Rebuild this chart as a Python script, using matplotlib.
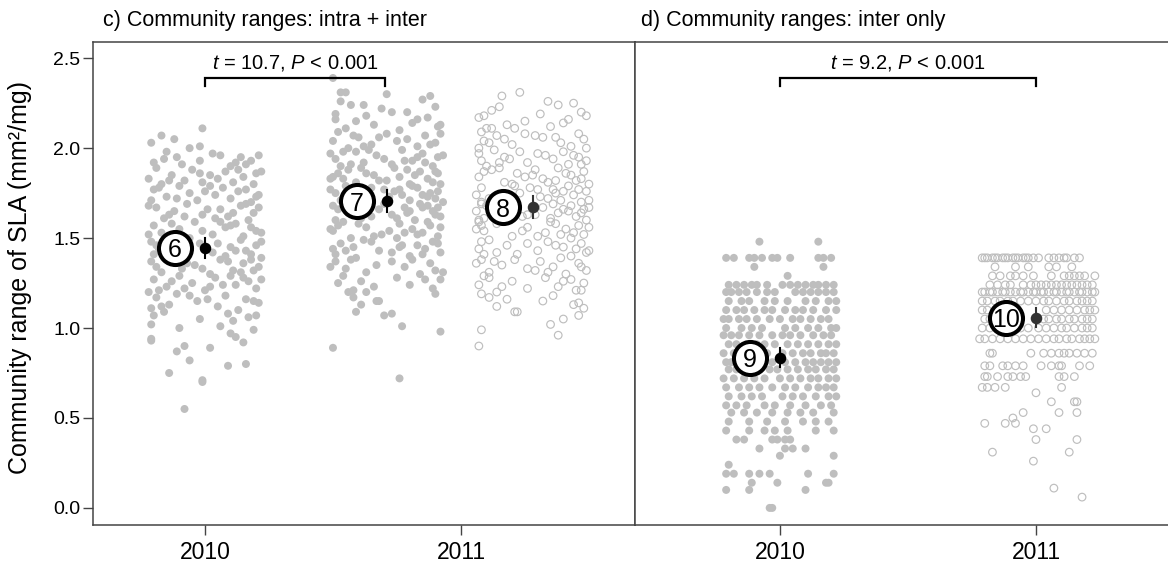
import matplotlib
matplotlib.use('Agg')
import matplotlib.pyplot as plt

#  Fonts
plt.rcParams['font.family'] = ['Liberation Sans', 'DejaVu Sans']
plt.rcParams['mathtext.fontset'] = 'custom'
plt.rcParams['mathtext.rm'] = 'Liberation Sans'
plt.rcParams['mathtext.it'] = 'Liberation Sans:italic'

#  Panel c, 2010 (filled): community ranges and x jitter (hundredths of a year)
c2010_y = [2.11, 2.07, 2.05, 2.03, 2.01, 2.00,
           1.98, 1.96, 1.95, 1.94, 1.93, 1.93, 1.92, 1.91, 1.96, 1.90, 1.95, 1.91, 1.97, 1.92,
           1.89, 1.88, 1.87, 1.86, 1.85, 1.85, 1.84, 1.83, 1.82, 1.81, 1.80, 1.80, 1.86, 1.83, 1.88, 1.82, 1.87, 1.81,
           1.79, 1.78, 1.77, 1.77, 1.76, 1.75, 1.74, 1.73, 1.72, 1.71, 1.70, 1.78, 1.74, 1.72, 1.76, 1.71, 1.73, 1.79,
           1.69, 1.68, 1.67, 1.66, 1.65, 1.64, 1.63, 1.62, 1.61, 1.60, 1.68, 1.66, 1.64, 1.62, 1.67, 1.63, 1.61, 1.69,
           1.59, 1.58, 1.57, 1.56, 1.55, 1.54, 1.53, 1.52, 1.51, 1.50, 1.58, 1.56, 1.54, 1.52, 1.57, 1.53, 1.51, 1.59,
           1.49, 1.48, 1.47, 1.46, 1.45, 1.44, 1.43, 1.42, 1.41, 1.40, 1.48, 1.46, 1.43, 1.41, 1.47, 1.42,
           1.39, 1.38, 1.37, 1.36, 1.35, 1.34, 1.33, 1.32, 1.31, 1.30, 1.38, 1.36, 1.34, 1.32, 1.37, 1.33, 1.31, 1.39,
           1.29, 1.28, 1.27, 1.26, 1.25, 1.24, 1.23, 1.22, 1.21, 1.20, 1.28, 1.26, 1.24, 1.22, 1.27, 1.23, 1.21, 1.29,
           1.19, 1.18, 1.17, 1.16, 1.15, 1.14, 1.13, 1.12, 1.11, 1.10, 1.18, 1.15, 1.12, 1.16,
           1.09, 1.08, 1.07, 1.06, 1.05, 1.04, 1.02, 1.01, 1.00, 1.07,
           0.99, 0.97, 0.95, 0.94, 0.93, 0.92, 0.90,
           0.89, 0.87, 0.82, 0.80, 0.79,
           0.75, 0.71, 0.70,
           0.55]
c2010_jit = [-1, -17, -12, -21, -2, -6,
             -15, 6, 14, -16, 18, -2, -20, -9, 21, 10, -11, 16, 3, 12,
             -19, -5, 8, 20, -13, 2, 15, -22, -8, 11, -17, 19, -2, 5, 13, -14, 22, -1,
             -10, 7, -20, 16, 0, -6, 21, -15, 10, -3, 18, -18, 4, -11, 13, -21, 20, 2,
             -7, 14, -19, 6, -12, 19, -1, 9, -16, 17, -22, 1, 11, -8, 21, -14, 4, 16,
             -4, 12, -20, 8, -10, 20, -17, 3, 15, -6, -13, 18, -1, -22, 10, 22, -9, 6,
             14, -21, 5, 20, 10, -18, 16, 3, -20, 8, 22, -19, 12, 18, -2, -16,
             -13, 6, -21, 15, -4, 21, -9, 11, -17, 2, 18, -7, -19, 19, 9, -1, 14, 22,
             -10, 4, -20, 17, -5, 12, -15, 20, 0, -22, 15, -13, 7, -8, 22, 2, -18, 10,
             -11, 8, -19, 16, -3, 21, -14, 5, -21, 13, -6, 19, -17, 1,
             -16, 9, -20, 17, -2, 11, -21, 6, -10, 20,
             19, 10, 12, -21, -21, 15, -8,
             2, -11, -6, 16, 9,
             -14, -1, -1,
             -8]

#  Panel c, 2011 (filled)
c2011_y = [2.39, 2.31, 2.31, 2.30,
           2.27, 2.26, 2.24, 2.24, 2.22, 2.20, 2.20, 2.29, 2.23,
           2.19, 2.17, 2.16, 2.15, 2.14, 2.13, 2.12, 2.11, 2.10, 2.18, 2.16, 2.13,
           2.09, 2.08, 2.07, 2.06, 2.05, 2.04, 2.03, 2.02, 2.01, 2.00, 2.08, 2.06, 2.04, 2.02, 2.07, 2.01,
           1.99, 1.98, 1.97, 1.96, 1.95, 1.94, 1.93, 1.92, 1.91, 1.90, 1.98, 1.96, 1.94, 1.92, 1.97, 1.93, 1.91, 1.99, 1.95, 1.90,
           1.89, 1.88, 1.87, 1.86, 1.85, 1.84, 1.83, 1.82, 1.81, 1.80, 1.88, 1.86, 1.84, 1.82, 1.87, 1.83, 1.81, 1.89, 1.85, 1.80, 1.86, 1.83,
           1.79, 1.78, 1.77, 1.76, 1.75, 1.74, 1.73, 1.72, 1.71, 1.70, 1.78, 1.76, 1.74, 1.72, 1.77, 1.73, 1.71, 1.79, 1.75, 1.70, 1.77, 1.73,
           1.69, 1.68, 1.67, 1.66, 1.65, 1.64, 1.63, 1.62, 1.61, 1.60, 1.68, 1.66, 1.64, 1.62, 1.67, 1.63, 1.61, 1.69, 1.65, 1.60, 1.67, 1.63,
           1.59, 1.58, 1.57, 1.56, 1.55, 1.54, 1.53, 1.52, 1.51, 1.50, 1.58, 1.56, 1.54, 1.52, 1.57, 1.53, 1.51, 1.59, 1.55, 1.50,
           1.49, 1.48, 1.47, 1.46, 1.45, 1.44, 1.43, 1.42, 1.41, 1.40, 1.48, 1.46, 1.44, 1.42, 1.47, 1.43, 1.41, 1.45,
           1.39, 1.38, 1.37, 1.36, 1.35, 1.34, 1.33, 1.32, 1.31, 1.30, 1.37, 1.34, 1.31, 1.38,
           1.29, 1.28, 1.27, 1.26, 1.25, 1.24, 1.23, 1.22, 1.21, 1.27,
           1.20, 1.17, 1.13, 1.15, 1.15, 1.20, 1.19,
           1.09, 1.07, 1.08, 1.01,
           0.98, 0.89, 0.72]
c2011_jit = [-21, -18, -16, 0,
             14, -18, -14, -9, -2, 2, 8, 17, 19,
             -20, 16, -20, -12, 10, -5, 20, -16, 5, -8, 12, 21,
             -19, 0, 15, -11, 8, -21, 19, -6, 12, -15, 21, -3, 4, 17, -13, -9,
             6, -17, 14, -4, 20, -20, 10, -9, 2, 18, -12, 22, -1, 15, -22, 7, -14, -7, 12, -18,
             3, -15, 19, -8, 11, -21, 16, 0, -12, 21, 8, -19, 5, -3, 13, -17, 18, -10, -5, 9, 20, -22,
             -16, 12, -1, 20, -20, 6, 16, -11, 9, 22, -6, 3, 14, 19, -22, 1, -18, 10, 17, -13, 5, -8,
             13, -21, 7, -3, 18, -15, 2, 21, -10, 11, 16, -19, 8, -6, 20, -12, 4, -1, 9, -20, 14, 19,
             -17, 5, 17, -8, 10, -21, 14, -2, 20, -14, -11, 21, 1, 12, -19, 7, -5, 16, -22, 4,
             -9, 18, -18, 6, -13, 15, -3, 21, -20, 9, -6, 12, -21, 2, 20, -16, 14, 5,
             -12, 10, -20, 17, -4, 7, -16, 19, -8, 13, 2, -22, 22, -14,
             -17, 4, 15, -10, -19, 9, -5, 18, -13, 21,
             -15, -13, -10, -4, -3, -8, 19,
             -12, -1, 2, 6,
             21, -21, 5]

#  Panel c, 2011 (open)
c2011o_y = [2.31, 2.29, 2.26, 2.25, 2.24, 2.23, 2.21, 2.20,
            2.18, 2.19, 2.18, 2.15, 2.14, 2.11, 2.11, 2.11, 2.13, 2.16, 2.12, 2.17,
            2.09, 2.08, 2.07, 2.06, 2.05, 2.04, 2.03, 2.02, 2.01, 2.00, 2.08, 2.06, 2.03, 2.05, 2.00, 2.07,
            1.99, 1.98, 1.97, 1.96, 1.95, 1.94, 1.93, 1.92, 1.91, 1.90, 1.98, 1.96, 1.94, 1.92, 1.97, 1.93, 1.91, 1.95,
            1.89, 1.88, 1.87, 1.86, 1.85, 1.84, 1.83, 1.82, 1.81, 1.80, 1.88, 1.86, 1.84, 1.82, 1.87, 1.83, 1.81, 1.89, 1.85, 1.80,
            1.79, 1.78, 1.77, 1.76, 1.75, 1.74, 1.73, 1.72, 1.71, 1.70, 1.78, 1.76, 1.74, 1.72, 1.77, 1.73, 1.71, 1.79, 1.75, 1.70, 1.77,
            1.69, 1.68, 1.67, 1.66, 1.65, 1.64, 1.63, 1.62, 1.61, 1.60, 1.68, 1.66, 1.64, 1.62, 1.67, 1.63, 1.61, 1.69, 1.65, 1.60,
            1.59, 1.58, 1.57, 1.56, 1.55, 1.54, 1.53, 1.52, 1.51, 1.50, 1.58, 1.56, 1.54, 1.52, 1.57, 1.53, 1.51, 1.59, 1.55,
            1.49, 1.48, 1.47, 1.46, 1.45, 1.44, 1.43, 1.42, 1.41, 1.40, 1.48, 1.46, 1.44, 1.42, 1.47, 1.43, 1.41,
            1.39, 1.38, 1.37, 1.36, 1.35, 1.34, 1.33, 1.32, 1.31, 1.30, 1.38, 1.36, 1.34, 1.32, 1.37, 1.31,
            1.29, 1.28, 1.27, 1.26, 1.25, 1.24, 1.23, 1.22, 1.21, 1.20, 1.28, 1.26, 1.23, 1.21,
            1.19, 1.17, 1.16, 1.15, 1.14, 1.13, 1.12, 1.18, 1.11,
            1.09, 1.09, 1.07, 1.02, 1.05,
            0.99, 0.96, 0.90]
c2011o_jit = [-5, -12, 6, 16, 10, -13, -16, 19,
              21, 3, -19, -3, 12, -18, -16, -7, -10, 14, 7, -21,
              -20, 18, -14, 4, 20, -19, 11, -8, 15, -21, -3, 9, -17, -11, 21, 1,
              -15, 12, -21, 5, 18, -9, 21, -2, 14, -18, -5, 16, 8, -13, 2, -20, 19, -11,
              10, -16, 20, -6, 15, -21, 4, 17, -11, 22, 1, 13, -3, 9, -19, 19, 6, -13, 0, -8,
              14, -20, 8, 21, -5, 16, 3, -17, 11, 19, -1, 12, -22, 6, 18, -12, 22, -7, 9, -20, 2,
              -20, 15, 4, 20, -22, 10, -2, 17, 7, -21, -18, 12, 19, -4, 22, 1, -19, 8, 14, 21,
              -21, 9, 18, -2, 13, -19, 5, 20, -8, 15, -14, 22, -4, 11, -20, 16, 2, 7, -22,
              -17, 6, 19, -10, 12, -21, 2, 21, -6, 15, -20, 9, 17, -14, -2, 22, -19,
              11, -20, 3, 18, -12, 8, -2, 21, -17, 13, -7, -22, 19, 1, -15, 6,
              -19, 5, 15, -8, 20, -21, 10, -2, 17, -14, -17, 12, -12, 19,
              -20, -17, -10, 4, 18, 16, -14, 8, 20,
              -7, -6, 18, 7, 12,
              -20, 10, -21]

#  Panel d, 2010 (filled): discrete range levels and jitter for each level
d2010_levels = [1.48, 1.39, 1.34, 1.29, 1.24, 1.20, 1.15, 1.10, 1.05, 1.00, 0.96, 0.91, 0.86,
                0.81, 0.77, 0.72, 0.67, 0.62, 0.57, 0.53, 0.48, 0.43, 0.38, 0.33, 0.29, 0.24,
                0.19, 0.14, 0.10, 0.00]
d2010_jit = [[-8, 15],
             [-21, -18, -12, -10, -7, -3, -1, 4, 15, 17, 20],
             [-10, 17],
             [3],
             [-20, -17, -14, -11, -9, -5, 1, 4, 7, 10, 13, 15, 18, 21],
             [-21, -19, -16, -13, -9, -5, -2, 6, 9, 12, 15, 18, 21],
             [-20, -15, -12, -6, -2, 3, 10, 14, 19, 22],
             [-21, -17, -14, -10, -6, -3, 2, 6, 9, 13, 18, 22],
             [-22, -20, -16, -13, -9, -4, 0, 5, 8, 12, 16, 19],
             [-21, -15, -11, -7, 2, 6, 11, 15, 20, 22],
             [-22, -19, -16, -12, -8, -3, 1, 4, 8, 13, 17, 20],
             [-20, -17, -13, -9, -6, -2, 3, 7, 11, 15, 19, 22],
             [-22, -18, -14, -10, -5, 1, 5, 9, 12, 16, 18, 21],
             [-21, -19, -16, -13, -7, -3, 2, 6, 10, 13, 16, 19, 22],
             [-20, -17, -12, -9, -4, -1, 3, 7, 11, 14, 18, 21],
             [-22, -18, -14, -10, -6, 0, 4, 8, 12, 15, 19, 22],
             [-21, -16, -12, -8, -3, 2, 6, 11, 15, 18, 21],
             [-20, -15, -11, -7, 1, 5, 9, 14, 19, 22],
             [-21, -17, -13, -6, -2, 4, 10, 16, 20],
             [-19, -14, -9, -3, 3, 8, 13, 21],
             [-20, -12, -5, 2, 9, 14, 19],
             [-21, -12, -6, -2, 3, 14, 21],
             [-17, -14, -3, -1, 2, 4],
             [-8, 2, 5, 10],
             [0, 21],
             [-20],
             [-21, -18, -12, -8, -4, 11, 21],
             [-11, -1, 18, 19],
             [-21, -12, 10],
             [-4, -3]]

#  Panel d, 2011 (open)
d2011_levels = [1.39, 1.34, 1.29, 1.24, 1.20, 1.15, 1.10, 1.05, 1.00, 0.94, 0.86, 0.79, 0.73,
                0.67, 0.64, 0.59, 0.53, 0.50, 0.47, 0.44, 0.38, 0.31, 0.26, 0.11, 0.06]
d2011_jit = [[-21, -20, -19, -17, -16, -15, -13, -12, -11, -9, -8, -7, -5, -4, -3, -1, 1, 5, 7, 9, 11, 12, 15, 17],
             [-16, -8, -3, 5, 8, 14],
             [-17, -14, -10, -8, -5, -1, 6, 11, 13, 15, 17, 19, 23],
             [-18, -15, -12, -10, -5, -2, 0, 2, 4, 6, 8, 10, 12, 14, 16, 18, 20, 22],
             [-21, -20, -18, -17, -15, -13, -12, -10, -8, -6, -5, -3, -1, 0, 2, 3, 5, 7, 8, 10, 12, 13, 15, 17, 18, 20, 22, 23],
             [-21, -19, -16, -14, -11, -9, -6, -3, 0, 3, 5, 8, 11, 13, 16, 18, 20, 22],
             [-21, -19, 4, 7, 10, 13, 16, 19, 21, 23],
             [-20, -18, 0, 3, 5, 8, 10, 13, 15, 18, 20, 22],
             [-21, -18, -15, -12, -9, -6, -3, 1, 4, 7, 10, 12, 15, 18, 20, 22],
             [-22, -20, -17, -14, -11, -8, -5, -2, 1, 4, 7, 9, 12, 14, 17, 19, 21, 23],
             [-18, -17, -2, 3, 6, 9, 11, 13, 16, 19, 22],
             [-20, -18, -13, -11, -8, -5, 2, 6, 9, 10, 17, 21],
             [-20, -19, -15, -11, -9, -6, -4, 9, 11, 15],
             [-21, -19, -16, -12, 10],
             [0],
             [6, 15, 16],
             [-5, 9, 16],
             [-9],
             [-20, -12, -8],
             [-1, 4],
             [0, 16],
             [-17, 13],
             [-1],
             [7],
             [18]]

#  Group means with standard errors and their circled labels
c_pos = [2010.0, 2010.71, 2011.28]
c_means = [1.445, 1.705, 1.672]
c_errs = [0.055, 0.06, 0.06]
c_labels = ['6', '7', '8']
c_colors = ['black', 'black', '#333333']

d_pos = [2010.0, 2011.0]
d_means = [0.835, 1.058]
d_errs = [0.052, 0.052]
d_labels = ['9', '10']
d_colors = ['black', '#333333']

GREY = '#bebebe'
SPINE = '#444444'


#  Turn level rows into flat y / jitter lists
def Flatten_Rows(levels, rows):
    ys, js = [], []
    for level, row in zip(levels, rows):
        for j in row:
            ys.append(level)
            js.append(j)
    return ys, js


#  Draw one jittered cloud of points
def Plot_Cloud(ax, center, ys, jitter, filled):
    xs = [center + j / 100.0 for j in jitter]
    if filled:
        ax.scatter(xs, ys, s=33, color=GREY, edgecolors='none', zorder=2)
    else:
        ax.scatter(xs, ys, s=30, facecolors='none', edgecolors=GREY, linewidths=0.85, zorder=2)


#  Draw a mean, its error bar and the circled number
def Plot_Mean(ax, x, mean, err, label, color):
    ax.plot([x, x], [mean - err, mean + err], color=color, lw=1.5, zorder=5)
    ax.plot(x, mean, 'o', color=color, ms=7.3, zorder=6)
    ax.plot(x - 0.117, mean, 'o', ms=23.8, mfc='white', mec='black', mew=2.9, zorder=5)
    ax.text(x - 0.117, mean, label, ha='center', va='center_baseline', fontsize=18, zorder=7)


#  Draw the bracket with the t-test result
def Plot_Bracket(ax, x0, x1, text):
    ax.plot([x0, x0, x1, x1], [2.345, 2.39, 2.39, 2.345], color='black', lw=1.6,
            solid_joinstyle='miter', zorder=4)
    ax.text((x0 + x1) / 2.0, 2.445, text, ha='center', va='baseline', fontsize=14.5)


def Style_Axes(ax, show_y):
    for side in ['left', 'right', 'top', 'bottom']:
        ax.spines[side].set_color(SPINE)
        ax.spines[side].set_linewidth(1.1)
    ax.set_ylim(-0.095, 2.59)
    ax.set_xticks([2010, 2011])
    ax.set_xticklabels(['2010', '2011'])
    ax.tick_params(axis='x', direction='out', length=7.5, width=1.0, color=SPINE,
                   labelsize=16.5, pad=4)
    if show_y:
        ax.set_yticks([0.0, 0.5, 1.0, 1.5, 2.0, 2.5])
        ax.set_yticklabels(['0.0', '0.5', '1.0', '1.5', '2.0', '2.5'])
        ax.tick_params(axis='y', direction='out', length=7, width=1.0, color=SPINE,
                       labelsize=14, pad=2)
    else:
        ax.set_yticks([])


fig = plt.figure(figsize=(11.68, 5.62), dpi=100)

#  Panel c
ax1 = fig.add_axes([93 / 1168.0, 37 / 562.0, 542 / 1168.0, 483 / 562.0])
Plot_Cloud(ax1, c_pos[0], c2010_y, c2010_jit, True)
Plot_Cloud(ax1, c_pos[1], c2011_y, c2011_jit, True)
Plot_Cloud(ax1, c_pos[2], c2011o_y, c2011o_jit, False)
for i in range(len(c_pos)):
    Plot_Mean(ax1, c_pos[i], c_means[i], c_errs[i], c_labels[i], c_colors[i])
Plot_Bracket(ax1, c_pos[0], 2010.703, r'$t$ = 10.7, $P$ < 0.001')
ax1.set_xlim(2009.5625, 2011.68)
Style_Axes(ax1, True)

#  Panel d
ax2 = fig.add_axes([635 / 1168.0, 37 / 562.0, 540 / 1168.0, 483 / 562.0])
ys, js = Flatten_Rows(d2010_levels, d2010_jit)
Plot_Cloud(ax2, d_pos[0], ys, js, True)
ys, js = Flatten_Rows(d2011_levels, d2011_jit)
Plot_Cloud(ax2, d_pos[1], ys, js, False)
for i in range(len(d_pos)):
    Plot_Mean(ax2, d_pos[i], d_means[i], d_errs[i], d_labels[i], d_colors[i])
Plot_Bracket(ax2, d_pos[0], d_pos[1], r'$t$ = 9.2, $P$ < 0.001')
ax2.set_xlim(2009.434, 2011.543)
Style_Axes(ax2, False)
ax2.spines['right'].set_visible(False)

#  Titles and y label
fig.text(103 / 1168.0, 1 - 26 / 562.0, 'c) Community ranges: intra + inter',
         fontsize=15.5, ha='left', va='baseline')
fig.text(641 / 1168.0, 1 - 26 / 562.0, 'd) Community ranges: inter only',
         fontsize=15.5, ha='left', va='baseline')
fig.text(20 / 1168.0, 1 - 277 / 562.0, 'Community range of SLA (mm\u00b2/mg)',
         fontsize=18, rotation=90, ha='center', va='center')

fig.savefig('out.png', dpi=100)
